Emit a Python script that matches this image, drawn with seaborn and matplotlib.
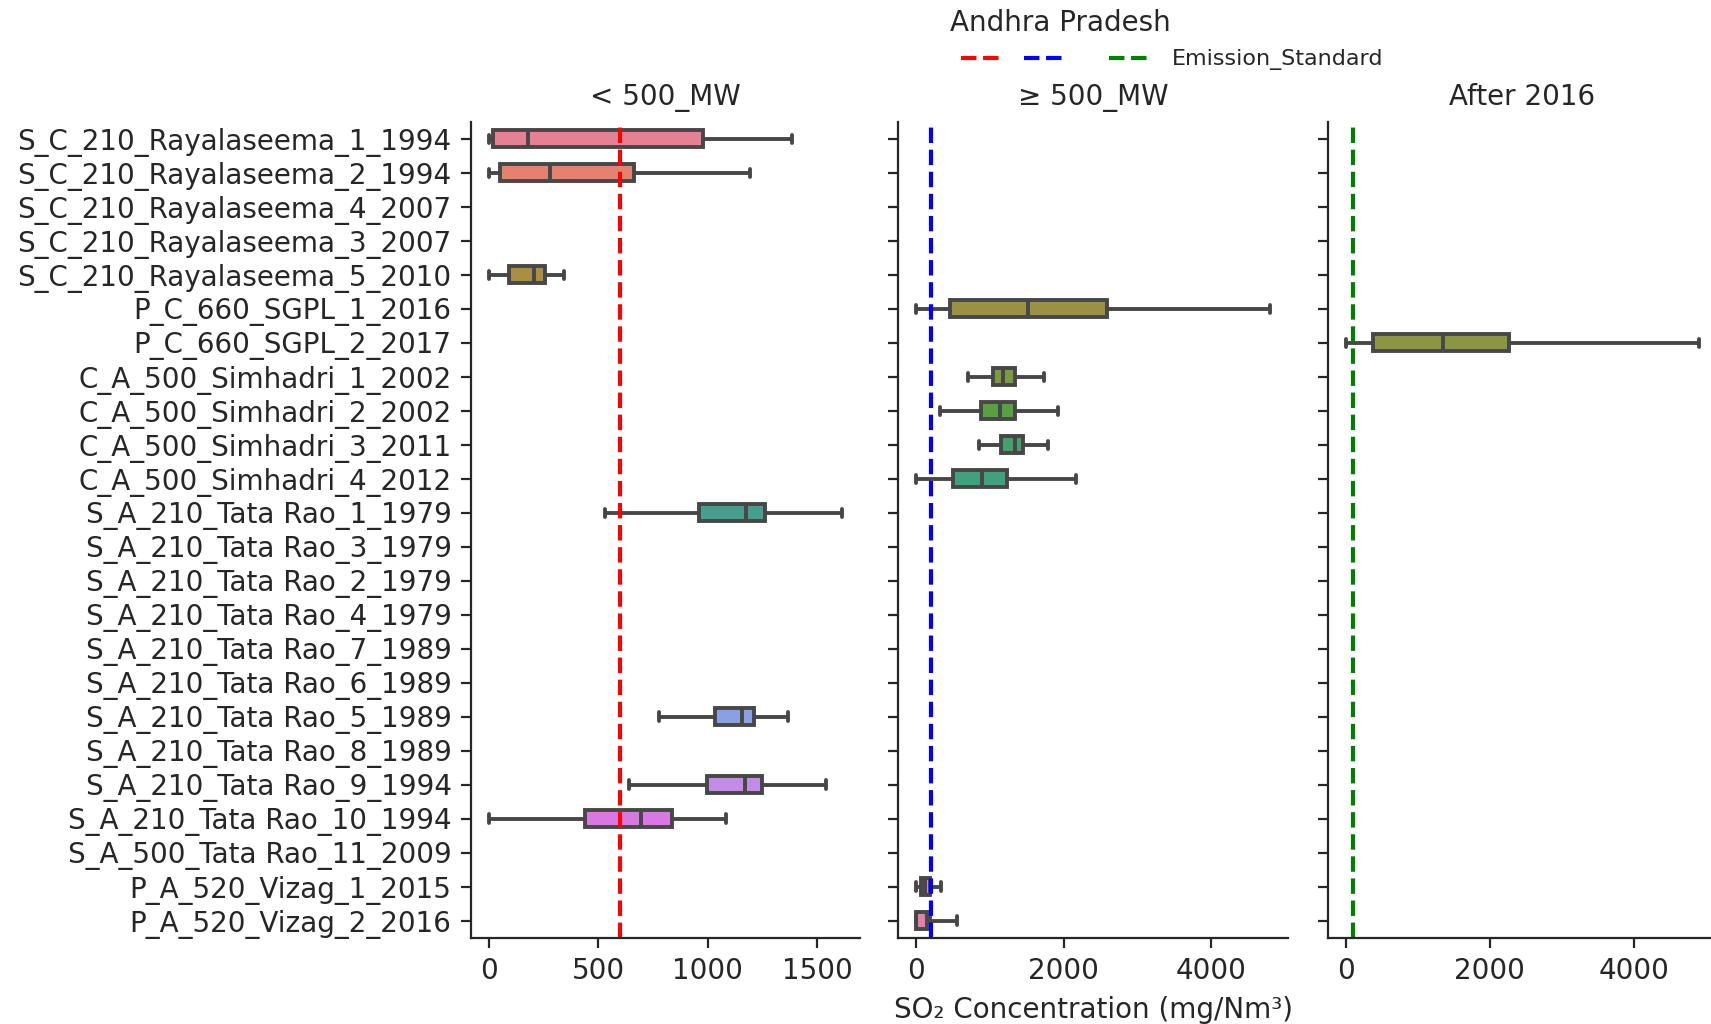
import pandas as pd
import matplotlib
matplotlib.use("Agg")
import matplotlib.pyplot as plt
import seaborn as sns
from matplotlib.lines import Line2D

# all units on the y axis, top to bottom
units = [
    "S_C_210_Rayalaseema_1_1994", "S_C_210_Rayalaseema_2_1994",
    "S_C_210_Rayalaseema_4_2007", "S_C_210_Rayalaseema_3_2007",
    "S_C_210_Rayalaseema_5_2010", "P_C_660_SGPL_1_2016",
    "P_C_660_SGPL_2_2017", "C_A_500_Simhadri_1_2002",
    "C_A_500_Simhadri_2_2002", "C_A_500_Simhadri_3_2011",
    "C_A_500_Simhadri_4_2012", "S_A_210_Tata Rao_1_1979",
    "S_A_210_Tata Rao_3_1979", "S_A_210_Tata Rao_2_1979",
    "S_A_210_Tata Rao_4_1979", "S_A_210_Tata Rao_7_1989",
    "S_A_210_Tata Rao_6_1989", "S_A_210_Tata Rao_5_1989",
    "S_A_210_Tata Rao_8_1989", "S_A_210_Tata Rao_9_1994",
    "S_A_210_Tata Rao_10_1994", "S_A_500_Tata Rao_11_2009",
    "P_A_520_Vizag_1_2015", "P_A_520_Vizag_2_2016",
]

# five-number summaries: min, q1, median, q3, max
lt500_units = ["S_C_210_Rayalaseema_1_1994", "S_C_210_Rayalaseema_2_1994",
               "S_C_210_Rayalaseema_5_2010", "S_A_210_Tata Rao_1_1979",
               "S_A_210_Tata Rao_5_1989", "S_A_210_Tata Rao_9_1994",
               "S_A_210_Tata Rao_10_1994"]
lt500_stats = [[0, 18, 180, 977, 1383],
               [0, 53, 278, 665, 1193],
               [0, 91, 208, 255, 345],
               [532, 959, 1173, 1261, 1615],
               [780, 1033, 1157, 1212, 1366],
               [643, 995, 1170, 1249, 1539],
               [0, 441, 696, 839, 1083]]

ge500_units = ["P_C_660_SGPL_1_2016", "C_A_500_Simhadri_1_2002",
               "C_A_500_Simhadri_2_2002", "C_A_500_Simhadri_3_2011",
               "C_A_500_Simhadri_4_2012", "P_A_520_Vizag_1_2015",
               "P_A_520_Vizag_2_2016"]
ge500_stats = [[0, 460, 1520, 2593, 4798],
               [708, 1046, 1181, 1339, 1736],
               [325, 879, 1136, 1339, 1925],
               [856, 1150, 1339, 1452, 1790],
               [0, 496, 888, 1226, 2164],
               [0, 63, 122, 189, 334],
               [0, 0, 150, 190, 559]]

after2016_units = ["P_C_660_SGPL_2_2017"]
after2016_stats = [[0, 384, 1349, 2275, 4913]]

panel_titles = ["< 500_MW", "≥ 500_MW", "After 2016"]
standards = [600, 200, 100]
std_colors = ["red", "blue", "green"]


def to_long(names, stats):
    rows = []
    for n, s in zip(names, stats):
        for v in s:
            rows.append({"Unit": n, "SO2": v})
    return pd.DataFrame(rows)


frames = [to_long(lt500_units, lt500_stats),
          to_long(ge500_units, ge500_stats),
          to_long(after2016_units, after2016_stats)]

sns.set_style("ticks")
plt.rcParams["font.family"] = ["DejaVu Sans"]

fig = plt.figure(figsize=(1711 / 200, 1024 / 200), dpi=200)
palette = sns.color_palette("husl", len(units))

W, H = 1711, 1024
lefts = [471, 898.5, 1328]
ax_w = 389
top, bottom = 122, 937.6

axes = []
for i, (df, title, std, c) in enumerate(zip(frames, panel_titles, standards, std_colors)):
    ax = fig.add_axes([lefts[i] / W, 1 - bottom / H, ax_w / W, (bottom - top) / H])
    sns.boxplot(data=df, x="SO2", y="Unit", hue="Unit", order=units,
                hue_order=units, palette=palette, whis=(0, 100), width=0.5,
                showfliers=False, legend=False, linewidth=1.4,
                linecolor="#474747", ax=ax)
    ax.axvline(std, color=c, linestyle="--", linewidth=1.5)
    ax.set_title(title, fontsize=10)
    ax.set_ylabel("")
    ax.set_xlabel("")
    if i > 0:
        ax.set_yticklabels([])
    sns.despine(ax=ax)
    axes.append(ax)

axes[1].set_xlabel("SO₂ Concentration (mg/Nm³)", fontsize=10)

handles = [Line2D([], [], color=c, linestyle="--", linewidth=1.5) for c in std_colors]
fig.legend(handles=handles, labels=["", "   ", "Emission_Standard"], ncol=3,
           loc="center left", bbox_to_anchor=(941 / W, 1 - 60 / H), frameon=False,
           fontsize=8, handlelength=1.75, handletextpad=1.1, columnspacing=0.0)
fig.text(1060 / W, 1 - 23 / H, "Andhra Pradesh", ha="center", va="center",
         fontsize=10)

fig.savefig("out.png", dpi=200)
